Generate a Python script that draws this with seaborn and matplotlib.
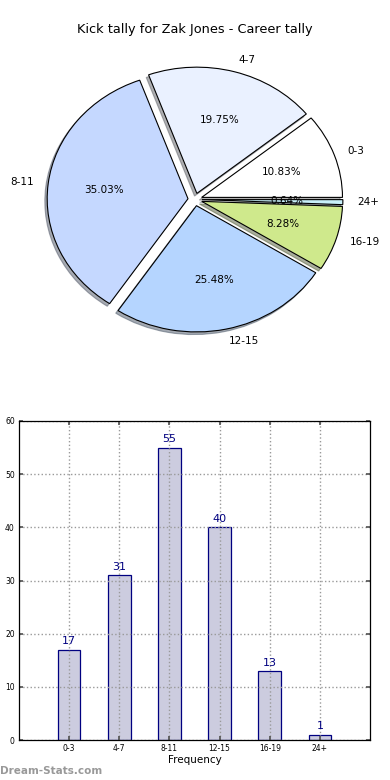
import matplotlib
matplotlib.use("Agg")
import matplotlib.pyplot as plt
import seaborn as sns
import pandas as pd

categories = ["0-3", "4-7", "8-11", "12-15", "16-19", "24+"]
counts = [17, 31, 55, 40, 13, 1]
pie_colors = ["#ffffff", "#eaf1ff", "#c5d8ff", "#b5d5ff", "#cfe98c", "#c8f0fa"]
title = "Kick tally for Zak Jones - Career tally"
yticks = [0, 10, 20, 30, 40, 50, 60]

sns.set_theme(style="white")
plt.rcParams['font.family'] = ['DejaVu Sans']
plt.rcParams['text.color'] = 'black'
plt.rcParams['axes.labelcolor'] = 'black'
plt.rcParams['xtick.labelcolor'] = 'black'
plt.rcParams['ytick.labelcolor'] = 'black'

fig = plt.figure(figsize=(3.9, 7.8), dpi=100)

# Pie (elliptical, no equal aspect)
axp = fig.add_axes([26/390, 1 - 351/780, 338/390, 303/780])
wedges, texts, autotexts = axp.pie(
    counts, labels=categories, colors=pie_colors, explode=[0.05]*len(counts),
    autopct="%1.2f%%", shadow={"ox": -0.012, "oy": -0.015, "shade": 0.6},
    startangle=0, counterclock=True,
    wedgeprops=dict(edgecolor="black", linewidth=0.8),
    textprops=dict(fontsize=7.5, color="black"))
axp.set_aspect("auto")
axp.set_xlim(-1.2, 1.2)
axp.set_ylim(-1.2, 1.2)
axp.axis("off")
fig.text(0.5, 1 - 30/780, title, ha="center", va="center", fontsize=9.3, color="black")

# Bar chart
axb = fig.add_axes([19/390, 40/780, 351/390, 319/780])
df = pd.DataFrame({"cat": categories, "count": counts})
sns.barplot(data=df, x="cat", y="count", ax=axb, color="#ccccdf",
            edgecolor="#000080", linewidth=0.9, width=0.45, saturation=1)
for i, v in enumerate(counts):
    axb.text(i, v + 0.6, str(v), ha="center", va="bottom", fontsize=8, color="#000080")
axb.set_xlim(-1, 6)
axb.set_ylim(0, 60)
axb.set_yticks(yticks)
axb.set_xlabel("Frequency", fontsize=7.5, labelpad=1, color="black")
axb.set_ylabel("")
axb.tick_params(axis="both", labelsize=5.5, direction="in", length=3, pad=3,
                top=True, right=True, bottom=True, left=True, color="#555555",
                labelcolor="black")
axb.grid(True, linestyle=":", color="#999999", linewidth=1.0)
axb.set_axisbelow(False)
for b in axb.patches:
    b.set_zorder(1)
for s in axb.spines.values():
    s.set_color("black")
    s.set_linewidth(0.9)
    s.set_zorder(5)

fig.text(0.0, 1 - 771/780, "Dream-Stats.com", fontsize=7.5, color="#999999",
         fontweight="bold", ha="left", va="center")

fig.savefig("out.png", dpi=100)
